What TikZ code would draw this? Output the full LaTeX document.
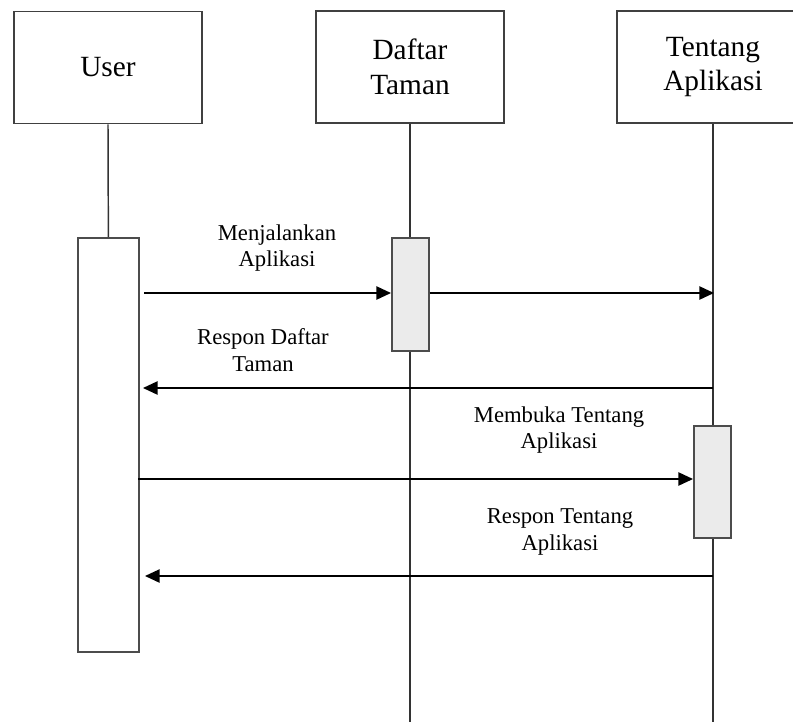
\documentclass[tikz,border=0pt]{standalone}
\usepackage{fontspec}
\setmainfont{Liberation Serif}
\usetikzlibrary{arrows.meta}
\begin{document}
\begin{tikzpicture}[x=0.75pt,y=-0.75pt,
  actor/.style={draw=black!75,line width=1.4pt,fill=white,minimum width=141pt,minimum height=84pt,inner sep=0pt,align=center,font=\fontsize{22}{26}\selectfont},
  life/.style={draw=black!80,line width=1.1pt},
  actbox/.style={draw=black!70,line width=1.3pt,inner sep=0pt,anchor=north west},
  msg/.style={draw=black,line width=1.1pt,-{Triangle[length=11pt,width=10pt]}},
  lbl/.style={align=center,font=\fontsize{17}{20}\selectfont,inner sep=0pt}]
\useasboundingbox (0,0) rectangle (793,722);
\clip (0,0) rectangle (793,722);
% lifelines
\coordinate (uTop) at (108,123);
\coordinate (dBot) at (410,722);
\coordinate (tBot) at (713,722);
\node[actor] (user) at (108,67.5) {User};
\node[actor] (daftar) at (410,67) {Daftar\\Taman};
\node[actor,minimum width=144pt] (tentang) at (713,67) {Tentang\\Aplikasi};
\draw[life] (daftar.south) -- (dBot);
\draw[life] (tentang.south) -- (tBot);
% activations
\node[actbox,fill=white,minimum width=45.75pt,minimum height=310.5pt] (actU) at (77,237) {};
\draw[life] (user.south) -- (actU.north);
\node[actbox,fill=black!8,minimum width=27.75pt,minimum height=84.75pt] (actD) at (391,237) {};
\node[actbox,fill=black!8,minimum width=27.75pt,minimum height=84pt] (actT) at (693,425) {};
% message end points
\coordinate (m1s) at (144,293);
\coordinate (m2e) at (714,293);
\coordinate (m3s) at (713,388);
\coordinate (m3e) at (143,388);
\coordinate (m4s) at (138,479);
\coordinate (m5s) at (713,576);
\coordinate (m5e) at (145,576);
\draw[msg] (m1s) -- (actD.west |- m1s);
\draw[msg] (actD.east |- m2e) -- (m2e);
\draw[msg] (m3s) -- (m3e);
\draw[msg] (m4s) -- (actT.west |- m4s);
\draw[msg] (m5s) -- (m5e);
% labels
\node[lbl] (l1) at (277,248) {Menjalankan\\Aplikasi};
\node[lbl] (l2) at (263,350) {Respon Daftar\\Taman};
\node[lbl] (l3) at (559,430) {Membuka Tentang\\Aplikasi};
\node[lbl] (l4) at (560,532) {Respon Tentang\\Aplikasi};
\end{tikzpicture}
\end{document}
